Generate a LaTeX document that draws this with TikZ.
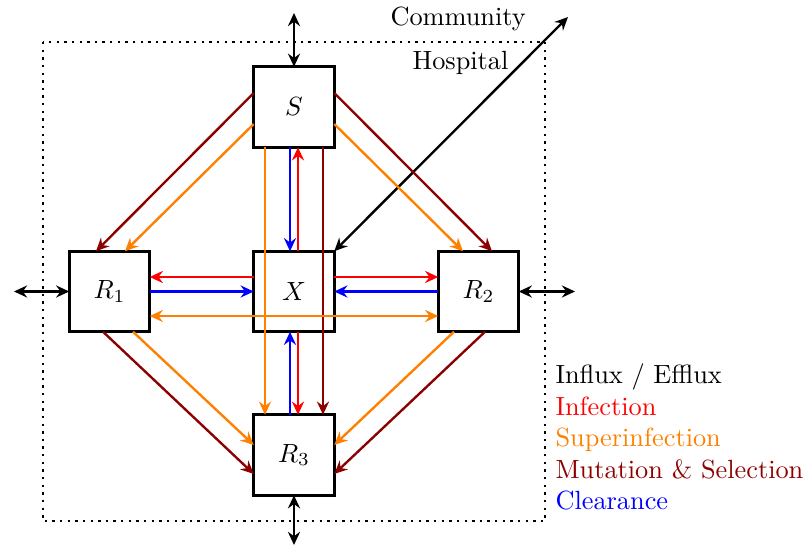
\documentclass[tikz,border=0pt]{standalone}
\usetikzlibrary{arrows.meta,calc}
\definecolor{mutred}{RGB}{140,0,0}
\definecolor{suporange}{RGB}{255,128,0}
\definecolor{infred}{RGB}{255,0,0}
\definecolor{clrblue}{RGB}{0,0,255}
\begin{document}
\begin{tikzpicture}[x=0.38pt,y=-0.38pt,
  compbox/.style={draw,line width=1.1pt,minimum size=30.6pt,inner sep=0pt,outer sep=0pt},
  flow/.style={line width=0.9pt,-{Stealth[length=5pt,width=4.6pt,inset=1.7pt]}},
  bflow/.style={line width=0.9pt,{Stealth[length=5pt,width=4.6pt,inset=1.7pt]}-{Stealth[length=5pt,width=4.6pt,inset=1.7pt]}},
  lbl/.style={anchor=base west,inner sep=0pt}]
\useasboundingbox (0,0) rectangle (809,550);
\draw[line width=0.9pt,dotted] (43,42) rectangle (545,521);

\node[compbox] (S) at (294,107) {$S$};
\node[compbox] (X) at (294,291.5) {$X$};
\node[compbox] (R1) at (109.5,291.5) {$R_1$};
\node[compbox] (R2) at (478.5,291.5) {$R_2$};
\node[compbox] (R3) at (294,455) {$R_3$};

\coordinate (top) at (294,13);
\coordinate (bot) at (294,545);
\coordinate (lft) at (14,291.5);
\coordinate (rgt) at (575,291.5);
\coordinate (out) at (568,17);

% influx / efflux
\draw[bflow] (S.north) -- (top);
\draw[bflow] (R3.south) -- (bot);
\draw[bflow] (R1.west) -- (lft);
\draw[bflow] (R2.east) -- (rgt);
\draw[bflow] (X.north east) -- (out);

% vertical S - X - R3
\draw[flow,clrblue] ($(S.south)+(-4,0)$) -- ($(X.north)+(-4,0)$);
\draw[flow,infred] ($(X.north)+(4,0)$) -- ($(S.south)+(4,0)$);
\draw[flow,clrblue] ($(R3.north)+(-4,0)$) -- ($(X.south)+(-4,0)$);
\draw[flow,infred] ($(X.south)+(4,0)$) -- ($(R3.north)+(4,0)$);
\draw[flow,suporange] ($(S.south)+(-29,0)$) -- ($(R3.north)+(-29,0)$);
\draw[flow,mutred] ($(S.south)+(29,0)$) -- ($(R3.north)+(29,0)$);

% horizontal R1 - X - R2
\draw[flow,infred] ($(X.west)+(0,-14.5)$) -- ($(R1.east)+(0,-14.5)$);
\draw[flow,infred] ($(X.east)+(0,-14.5)$) -- ($(R2.west)+(0,-14.5)$);
\draw[flow,clrblue] (R1.east) -- (X.west);
\draw[flow,clrblue] (R2.west) -- (X.east);
\draw[bflow,suporange] ($(R1.east)+(0,24.5)$) -- ($(R2.west)+(0,24.5)$);

% diagonals
\draw[flow,mutred] ($(S.west)+(0,-14)$) -- ($(R1.north)+(-13.5,0)$);
\draw[flow,suporange] ($(S.west)+(0,17)$) -- ($(R1.north)+(15.5,0)$);
\draw[flow,mutred] ($(S.east)+(0,-14)$) -- ($(R2.north)+(13.5,0)$);
\draw[flow,suporange] ($(S.east)+(0,17)$) -- ($(R2.north)+(-15.5,0)$);
\draw[flow,mutred] ($(R1.south)+(-6.5,0)$) -- ($(R3.west)+(0,19)$);
\draw[flow,suporange] ($(R1.south)+(23.5,0)$) -- ($(R3.west)+(0,-10)$);
\draw[flow,mutred] ($(R2.south)+(6.5,0)$) -- ($(R3.east)+(0,19)$);
\draw[flow,suporange] ($(R2.south)+(-24.5,0)$) -- ($(R3.east)+(0,-10)$);

% labels
\node[lbl] (comm) at (390,26) {Community};
\node[lbl] (hosp) at (412,70) {Hospital};
\node[lbl] (l1) at (555,384) {Influx / Efflux};
\node[lbl,text=infred] (l2) at (555,415.5) {Infection};
\node[lbl,text=suporange] (l3) at (555,447) {Superinfection};
\node[lbl,text=mutred] (l4) at (555,478.5) {Mutation \& Selection};
\node[lbl,text=clrblue] (l5) at (555,510) {Clearance};
\end{tikzpicture}
\end{document}
